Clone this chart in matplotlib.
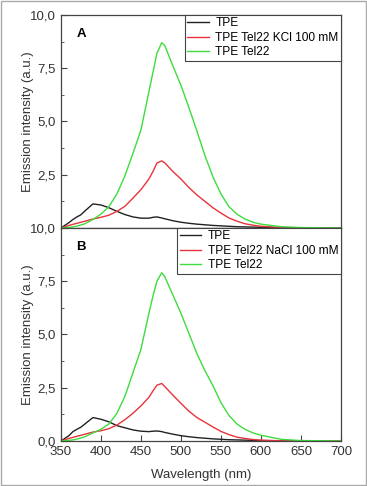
import matplotlib
matplotlib.use("Agg")
import matplotlib.pyplot as plt
from matplotlib.patches import Rectangle
from matplotlib.ticker import FuncFormatter, MultipleLocator

plt.rcParams['font.family'] = ['Liberation Sans', 'DejaVu Sans']

# wavelength grid (nm)
wl = [350, 360, 365, 370, 375, 380, 390, 400, 410, 420, 430, 440, 450, 460, 465,
      470, 476, 480, 490, 500, 510, 520, 530, 540, 550, 560, 570, 580, 590, 600,
      625, 650, 700]

# panel A (KCl)
a_tpe = [0, 0.25, 0.4, 0.52, 0.62, 0.8, 1.13, 1.08, 0.95, 0.78, 0.63, 0.52, 0.46,
         0.46, 0.5, 0.52, 0.47, 0.43, 0.34, 0.27, 0.22, 0.18, 0.15, 0.12, 0.1,
         0.08, 0.06, 0.05, 0.04, 0.03, 0.01, 0, 0]
a_kcl = [0, 0.12, 0.17, 0.22, 0.27, 0.32, 0.42, 0.5, 0.6, 0.78, 1.02, 1.4, 1.8,
         2.3, 2.65, 3.05, 3.15, 3.05, 2.65, 2.3, 1.9, 1.55, 1.25, 0.95, 0.7,
         0.47, 0.32, 0.2, 0.13, 0.08, 0.02, 0, 0]
a_tel = [0, 0.03, 0.05, 0.09, 0.14, 0.2, 0.4, 0.65, 1.0, 1.6, 2.45, 3.5, 4.6,
         6.4, 7.3, 8.2, 8.7, 8.55, 7.6, 6.7, 5.65, 4.55, 3.4, 2.4, 1.6, 1.0,
         0.65, 0.42, 0.27, 0.18, 0.06, 0.02, 0]

# panel B (NaCl)
b_tpe = [0, 0.25, 0.44, 0.55, 0.65, 0.8, 1.1, 1.02, 0.9, 0.72, 0.62, 0.52, 0.46,
         0.44, 0.46, 0.47, 0.44, 0.4, 0.32, 0.25, 0.2, 0.16, 0.13, 0.1, 0.08,
         0.06, 0.05, 0.04, 0.03, 0.02, 0.01, 0, 0]
b_nacl = [0, 0.12, 0.17, 0.22, 0.27, 0.32, 0.42, 0.48, 0.58, 0.75, 1.0, 1.3, 1.65,
          2.05, 2.35, 2.62, 2.7, 2.55, 2.15, 1.77, 1.4, 1.1, 0.88, 0.66, 0.45,
          0.3, 0.18, 0.12, 0.07, 0.04, 0.01, 0, 0]
b_tel = [0, 0.03, 0.05, 0.09, 0.14, 0.2, 0.38, 0.55, 0.8, 1.3, 2.1, 3.2, 4.3,
         6.0, 6.8, 7.5, 7.9, 7.7, 6.85, 6.0, 5.05, 4.1, 3.3, 2.6, 1.8, 1.2,
         0.8, 0.55, 0.38, 0.27, 0.08, 0.02, 0]

panels = [
    ("A", [a_tpe, a_kcl, a_tel], ["TPE", "TPE Tel22 KCl 100 mM", "TPE Tel22"]),
    ("B", [b_tpe, b_nacl, b_tel], ["TPE", "TPE Tel22 NaCl 100 mM", "TPE Tel22"]),
]
colors = ['#222222', '#e8333a', '#3edc3e']

fig = plt.figure(figsize=(3.67, 4.86), dpi=100)
fig.patches.append(Rectangle((0.004, 0.002), 0.992, 0.996, transform=fig.transFigure,
                             fill=False, edgecolor='#aaaaaa', linewidth=1.0))

left, width, height = 0.166, 0.763, 0.4383
bottoms = [0.5309, 0.0926]


def comma(v, pos):
    return f"{v:.1f}".replace('.', ',')


def comma_no_zero(v, pos):
    if abs(v) < 1e-9:
        return ''
    return comma(v, pos)


for i, (tag, series, labels) in enumerate(panels):
    ax = fig.add_axes([left, bottoms[i], width, height])
    for y, c, lab in zip(series, colors, labels):
        ax.plot(wl, y, color=c, linewidth=1.0, label=lab)
    ax.set_xlim(350, 700)
    ax.set_ylim(0, 10)
    ax.yaxis.set_major_locator(MultipleLocator(2.5))
    ax.yaxis.set_minor_locator(MultipleLocator(1.25))
    ax.xaxis.set_major_locator(MultipleLocator(50))
    ax.tick_params(axis='both', which='both', direction='in', labelsize=9.5,
                   labelcolor='#333333', color='#444444')
    ax.tick_params(which='major', length=4)
    ax.tick_params(which='minor', length=2.5)
    for s in ax.spines.values():
        s.set_color('#444444')
        s.set_linewidth(0.9)
    ax.set_ylabel("Emission intensity (a.u.)", fontsize=9.5, color='#333333', labelpad=-3)
    ax.text(0.055, 0.91, tag, transform=ax.transAxes, fontsize=9.5,
            fontweight='bold', va='center')
    leg = ax.legend(loc='upper right', fontsize=8.6, borderaxespad=0,
                    fancybox=False, framealpha=1, edgecolor='#444444',
                    handlelength=1.8, handletextpad=0.55, labelspacing=0.2,
                    borderpad=0.2)
    leg.get_frame().set_linewidth(0.8)
    if i == 0:
        ax.yaxis.set_major_formatter(FuncFormatter(comma_no_zero))
        ax.tick_params(axis='x', which='both', bottom=False, labelbottom=False)
    else:
        ax.yaxis.set_major_formatter(FuncFormatter(comma))
        ax.set_xlabel("Wavelength (nm)", fontsize=9.5, color='#333333', labelpad=8)

fig.savefig("out.png", dpi=100)
